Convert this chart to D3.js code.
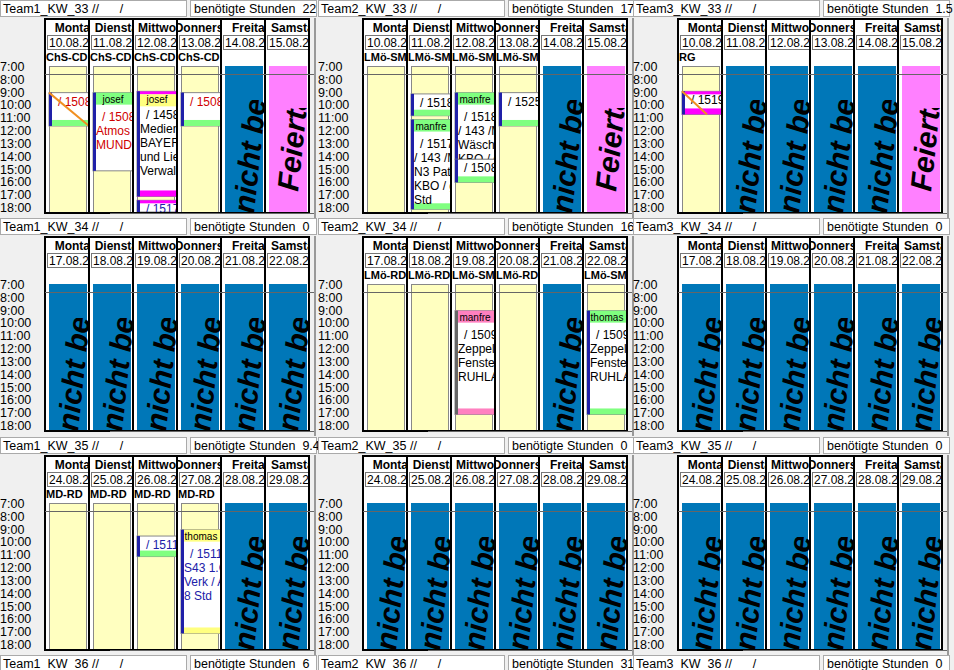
<!DOCTYPE html>
<html><head><meta charset="utf-8">
<script src="https://cdn.jsdelivr.net/npm/d3@7"></script>
<style>body{margin:0;background:#f0f0f0;font-family:"Liberation Sans",Arial,sans-serif} text{white-space:pre}</style>
</head><body><svg id="chart" width="954" height="670"></svg>
<script>
// data
var teams = ["Team1","Team2","Team3"];
var weeks = ["KW_33","KW_34","KW_35","KW_36"];
var dayNames = ["Montag","Dienstag","Mittwoch","Donnerstag","Freitag","Samstag"];
var weekDates = [
  ["10.08.20","11.08.20","12.08.20","13.08.20","14.08.20","15.08.20"],
  ["17.08.20","18.08.20","19.08.20","20.08.20","21.08.20","22.08.20"],
  ["24.08.20","25.08.20","26.08.20","27.08.20","28.08.20","29.08.20"]
];
var hoursNeeded = [["22","17","1.5"],["0","16","0"],["9.4","0","0"],["6","31","0"]];
// y = yellow free day, b = "nicht besetzt", p = Feiertag
var dayStatus = [
  ["yyyybp","yyyybp","ybbbbp"],
  ["bbbbbb","yyyyby","bbbbbb"],
  ["yyyybb","bbbbbb","bbbbbb"]
];
var dayCodes = [
  [["ChS-CD","ChS-CD","ChS-CD","ChS-CD","",""],["LMö-SM","LMö-SM","LMö-SM","LMö-SM","",""],["RG","","","","",""]],
  [["","","","","",""],["LMö-RD","LMö-RD","LMö-SM","LMö-RD","","LMö-SM"],["","","","","",""]],
  [["MD-RD","MD-RD","MD-RD","MD-RD","",""],["","","","","",""],["","","","","",""]]
];
var hourTicks = [7,8,9,10,11,12,13,14,15,16,17,18];
// events: row, col, day, start, end, head text/colour, top/foot strips, bar, text colour, lines
var events = [
  {r:0,c:0,d:0,s:9,e:11.6,head:"",hc:null,top:null,foot:"#80ff80",bar:"#2020a8",tc:"#d00000",lines:["/ 15081"],strike:true},
  {r:0,c:0,d:1,s:9,e:15.1,head:"josef",hc:"#80ff80",top:null,foot:null,bar:"#2020a8",tc:"#d00000",lines:["/ 15081","Atmos C","MUNDEI"]},
  {r:0,c:0,d:2,s:8.9,e:17.1,head:"josef",hc:"#ffff80",top:"#ff00ff",foot:"#ff00ff",bar:"#2020a8",tc:"#000",lines:["/ 14580","Mediens","BAYER","und Lieg","Verwalt"]},
  {r:0,c:0,d:2,s:17.4,e:18.6,head:"",hc:null,top:"#ff00ff",foot:null,bar:"#2020a8",tc:"#2020a8",lines:["/ 1517"]},
  {r:0,c:0,d:3,s:9,e:11.6,head:"",hc:null,top:null,foot:"#80ff80",bar:"#2020a8",tc:"#d00000",lines:["/ 15081"]},
  {r:0,c:1,d:1,s:9.1,e:10.8,head:"",hc:null,top:null,foot:"#80ff80",bar:"#2020a8",tc:"#000",lines:["/ 1518"]},
  {r:0,c:1,d:1,s:11.1,e:18.1,head:"manfre",hc:"#80ff80",top:null,foot:"#80ff80",bar:"#2020a8",tc:"#000",lines:["/ 15177","/ 143 /M","N3 Patie","KBO / g","Std"]},
  {r:0,c:1,d:2,s:9,e:14.2,head:"manfre",hc:"#80ff80",top:null,foot:null,bar:"#2020a8",tc:"#000",lines:["/ 15180","/ 143 /M","Wäsche","KBO / g"]},
  {r:0,c:1,d:2,s:14.2,e:16.0,head:"",hc:null,top:null,foot:"#80ff80",bar:"#2020a8",tc:"#000",lines:["/ 1508"]},
  {r:0,c:1,d:3,s:9,e:11.6,head:"",hc:null,top:null,foot:"#80ff80",bar:"#2020a8",tc:"#000",lines:["/ 1525"]},
  {r:0,c:2,d:0,s:8.9,e:10.7,head:"",hc:null,top:"#ff00ff",foot:"#ff00ff",bar:"#2020a8",tc:"#000",lines:["/ 1519"],strike:true},
  {r:1,c:1,d:2,s:9,e:17.1,head:"manfre",hc:"#ff80c0",top:null,foot:"#ff80c0",bar:"#666",tc:"#000",lines:["/ 15096","Zeppelii","Fenster","RUHLAI"]},
  {r:1,c:1,d:5,s:9,e:17.1,head:"thomas",hc:"#80ff80",top:null,foot:"#80ff80",bar:"#2020a8",tc:"#000",lines:["/ 15096","Zeppelii","Fenster","RUHLAI"]},
  {r:2,c:0,d:2,s:9.5,e:11.1,head:"",hc:null,top:null,foot:"#80ff80",bar:"#2020a8",tc:"#2020a8",lines:["/ 1511"]},
  {r:2,c:0,d:3,s:9,e:17.1,head:"thomas",hc:"#ffff80",top:null,foot:"#ffff80",bar:"#2020a8",tc:"#2020a8",lines:["/ 15111","S43 1.O","Verk / A","8 Std"]}
];

var svg = d3.select("#chart");
var colX = [0,318,633], rowY = [0,218,437,655], panelW = 316;
var y = d3.scaleLinear().domain([7,18]).range([67,208]);
var x = d3.scaleBand().domain(d3.range(6)).range([45,309]);
var defs = svg.append("defs");

weeks.forEach(function(wk, r){
  teams.forEach(function(tm, c){
    var g = svg.append("g").attr("transform","translate("+colX[c]+","+rowY[r]+")");
    // header boxes
    g.append("rect").attr("x",0.5).attr("y",0.5).attr("width",186).attr("height",16).attr("fill","#fff").attr("stroke","#aaa");
    g.append("text").attr("x",3).attr("y",13).attr("font-size",12.5).text(tm+"_"+wk+" //      /");
    g.append("rect").attr("x",190.5).attr("y",0.5).attr("width",panelW-190).attr("height",16).attr("fill","#fff").attr("stroke","#aaa");
    g.append("text").attr("x",194).attr("y",13).attr("font-size",12.5).text("benötigte Stunden  "+hoursNeeded[r][c]);
    g.append("line").attr("x1",panelW-1).attr("x2",panelW-1).attr("y1",18).attr("y2",218).attr("stroke","#999").attr("stroke-width",2);
    if (r>2) return;
    // time labels
    g.selectAll(".tl").data(hourTicks).join("text").attr("x",0).attr("y",function(h){return y(h)+4;})
      .attr("font-size",12.5).text(function(h){return h+":00";});
    var status = dayStatus[r][c];
    d3.range(6).forEach(function(d){
      var x0 = x(d), w = x.bandwidth();
      var id = "clip"+r+c+d;
      defs.append("clipPath").attr("id",id).append("rect").attr("x",x0+1).attr("y",19).attr("width",w-1).attr("height",194);
      var cg = g.append("g").attr("clip-path","url(#"+id+")");
      cg.append("rect").attr("x",x0).attr("y",19).attr("width",w).attr("height",194).attr("fill","#fff");
      cg.append("text").attr("x",x0+w/2+9).attr("y",32).attr("text-anchor","middle").attr("font-weight","bold").attr("font-size",12).text(dayNames[d]);
      cg.append("rect").attr("x",x0+2.5).attr("y",35.5).attr("width",w+2).attr("height",14).attr("fill","#fff").attr("stroke","#777");
      cg.append("text").attr("x",x0+4).attr("y",47).attr("font-size",12).text(weekDates[r][d]);
      cg.append("text").attr("x",x0+1).attr("y",61).attr("font-size",11).attr("font-weight","bold").text(dayCodes[r][c][d]);
      var st = status[d];
      if (st==="y") {
        cg.append("rect").attr("x",x0+4.5).attr("y",66.5).attr("width",w-7).attr("height",146).attr("fill","#ffffc0").attr("stroke","#888");
      } else {
        cg.append("rect").attr("x",x0+4).attr("y",66).attr("width",w-6).attr("height",147).attr("fill",st==="b"?"#0077b8":"#ff80ff");
        var tid = id+"t";
        defs.append("clipPath").attr("id",tid).append("rect").attr("x",x0).attr("y",st==="b"?100:108).attr("width",w).attr("height",120);
        cg.append("g").attr("clip-path","url(#"+tid+")").append("text")
          .attr("transform","translate("+(x0+w/2+11)+","+(st==="b"?214:192)+") rotate(-84)")
          .attr("font-size",30).attr("font-weight","bold").attr("font-style","italic").text(st==="b"?"nicht besetzt":"Feiertag");
      }
      // events
      events.filter(function(e){return e.r===r&&e.c===c&&e.d===d;}).forEach(function(e){
        var ex = x0+4, ew = w-4, y0 = y(e.s), y1 = Math.min(y(e.e),212);
        cg.append("rect").attr("x",ex).attr("y",y0).attr("width",ew).attr("height",y1-y0).attr("fill","#fff").attr("stroke","#888");
        var ty = y0+13;
        if (e.top) cg.append("rect").attr("x",ex).attr("y",y0).attr("width",ew).attr("height",3).attr("fill",e.top);
        if (e.head) {
          cg.append("rect").attr("x",ex).attr("y",y0+(e.top?3:0)).attr("width",ew).attr("height",12).attr("fill",e.hc);
          cg.append("text").attr("x",ex+ew/2).attr("y",y0+(e.top?12:10)).attr("text-anchor","middle").attr("font-size",10).text(e.head);
          ty = y0+28;
        }
        if (e.foot) cg.append("rect").attr("x",ex).attr("y",y1-6).attr("width",ew).attr("height",6).attr("fill",e.foot);
        cg.append("rect").attr("x",ex).attr("y",y0).attr("width",3).attr("height",y1-y0).attr("fill",e.bar);
        e.lines.forEach(function(t,i){
          cg.append("text").attr("x",ex+(i===0?9:3)).attr("y",ty+i*14).attr("font-size",12).attr("fill",e.tc).text(t);
        });
        if (e.strike) cg.append("line").attr("x1",ex).attr("y1",y0).attr("x2",e.c===2?ex+25:x0+w).attr("y2",y1)
          .attr("stroke","#f09020").attr("stroke-width",2);
      });
      g.append("rect").attr("x",x0).attr("y",19).attr("width",w).attr("height",194).attr("fill","none").attr("stroke","#000").attr("stroke-width",2);
    });
    g.append("line").attr("x1",45).attr("x2",panelW-2).attr("y1",74.5).attr("y2",74.5).attr("stroke","#666");
    g.append("line").attr("x1",110).attr("x2",panelW-2).attr("y1",213.5).attr("y2",213.5).attr("stroke","#666");
  });
});
</script></body></html>
